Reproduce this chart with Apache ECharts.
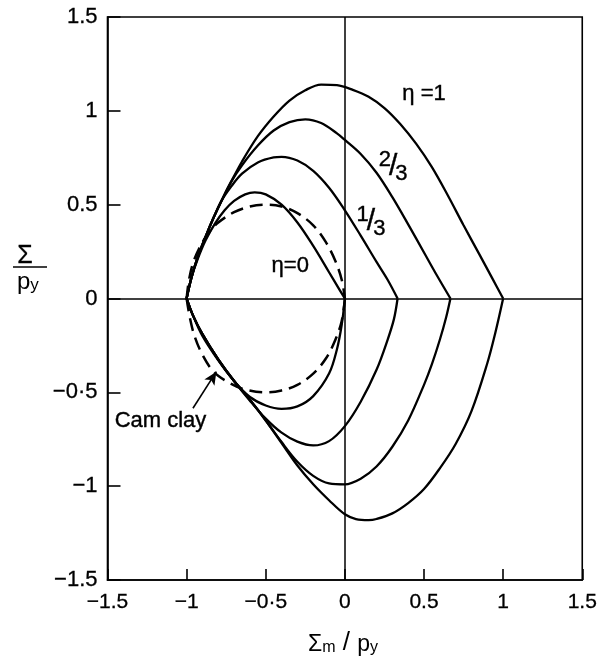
<!DOCTYPE html>
<html>
<head>
<meta charset="utf-8">
<script src="https://cdn.jsdelivr.net/npm/echarts@6/dist/echarts.min.js"></script>
<style>
  html, body { margin: 0; padding: 0; background: #fff; }
  #chart { width: 600px; height: 669px; }
</style>
</head>
<body>
<div id="chart"></div>
<script>
// Tick values and their printed labels
const xTickValues = [-1.5, -1, -0.5, 0, 0.5, 1, 1.5];
const xTickLabels = ['\u22121.5', '\u22121', '\u22120\u00b75', '0', '0.5', '1', '1.5'];
const yTickValues = [-1.5, -1, -0.5, 0, 0.5, 1, 1.5];
const yTickLabels = ['\u22121.5', '\u22121', '\u22120\u00b75', '0', '0.5', '1', '1.5'];

// Yield loci, upper (Σ > 0) and lower (Σ < 0) branches, as [Σm/py, Σ/py]
const eta0Upper = [[-1,0],[-0.97,0.11],[-0.93,0.21],[-0.88,0.31],[-0.82,0.4],[-0.76,0.47],[-0.7,0.52],[-0.63,0.555],[-0.57,0.566],[-0.5,0.555],[-0.4,0.5],[-0.3,0.405],[-0.2,0.28],[-0.1,0.14],[-0.04,0.055],[0,0]];
const eta0Lower = [[-1,0],[-0.96,-0.09],[-0.9,-0.2],[-0.8,-0.33],[-0.7,-0.44],[-0.6,-0.525],[-0.5,-0.57],[-0.4,-0.588],[-0.3,-0.575],[-0.2,-0.52],[-0.1,-0.4],[-0.05,-0.27],[-0.02,-0.14],[0,0]];

const eta13Upper = [[-1,0],[-0.97,0.11],[-0.93,0.22],[-0.88,0.33],[-0.83,0.43],[-0.78,0.52],[-0.72,0.595],[-0.65,0.665],[-0.55,0.725],[-0.45,0.752],[-0.4,0.755],[-0.3,0.735],[-0.2,0.68],[-0.1,0.59],[0,0.47],[0.1,0.335],[0.2,0.195],[0.27,0.1],[0.333,0]];
const eta13Lower = [[-1,0],[-0.96,-0.09],[-0.9,-0.19],[-0.8,-0.325],[-0.7,-0.44],[-0.6,-0.545],[-0.5,-0.64],[-0.4,-0.715],[-0.3,-0.763],[-0.2,-0.783],[-0.1,-0.76],[0,-0.68],[0.1,-0.55],[0.2,-0.38],[0.27,-0.22],[0.31,-0.11],[0.333,0]];

const eta23Upper = [[-1,0],[-0.97,0.11],[-0.93,0.22],[-0.88,0.33],[-0.83,0.43],[-0.78,0.52],[-0.72,0.62],[-0.65,0.71],[-0.55,0.815],[-0.45,0.895],[-0.35,0.94],[-0.25,0.955],[-0.15,0.935],[-0.05,0.88],[0,0.845],[0.1,0.77],[0.2,0.67],[0.3,0.54],[0.4,0.395],[0.5,0.245],[0.58,0.125],[0.667,0]];
const eta23Lower = [[-1,0],[-0.96,-0.09],[-0.9,-0.19],[-0.8,-0.325],[-0.7,-0.44],[-0.6,-0.54],[-0.5,-0.65],[-0.4,-0.765],[-0.3,-0.87],[-0.2,-0.945],[-0.1,-0.985],[0,-0.99],[0.1,-0.96],[0.2,-0.895],[0.3,-0.79],[0.4,-0.65],[0.5,-0.46],[0.55,-0.35],[0.6,-0.22],[0.64,-0.1],[0.667,0]];

const eta1Upper = [[-1,0],[-0.97,0.11],[-0.93,0.22],[-0.88,0.33],[-0.83,0.43],[-0.78,0.52],[-0.72,0.62],[-0.65,0.73],[-0.55,0.865],[-0.45,0.97],[-0.35,1.055],[-0.25,1.11],[-0.15,1.14],[-0.05,1.137],[0.05,1.112],[0.15,1.075],[0.25,1.015],[0.35,0.93],[0.45,0.825],[0.55,0.7],[0.65,0.55],[0.75,0.39],[0.85,0.235],[0.93,0.11],[1,0]];
const eta1Lower = [[-1,0],[-0.96,-0.09],[-0.9,-0.19],[-0.8,-0.325],[-0.7,-0.44],[-0.6,-0.54],[-0.5,-0.65],[-0.4,-0.77],[-0.3,-0.89],[-0.2,-0.99],[-0.1,-1.075],[0,-1.15],[0.07,-1.175],[0.15,-1.181],[0.2,-1.175],[0.3,-1.145],[0.4,-1.09],[0.5,-1.015],[0.6,-0.905],[0.7,-0.775],[0.8,-0.6],[0.9,-0.345],[0.95,-0.185],[1,0]];

// Cam clay locus
const camClayUpper = [[-1,0],[-0.985,0.1],[-0.955,0.2],[-0.9,0.3],[-0.85,0.36],[-0.8,0.405],[-0.7,0.46],[-0.6,0.49],[-0.5,0.5],[-0.4,0.49],[-0.3,0.455],[-0.2,0.39],[-0.12,0.3],[-0.06,0.2],[-0.02,0.1],[0,0]];
const camClayLower = [[-1,0],[-0.98,-0.1],[-0.95,-0.2],[-0.9,-0.3],[-0.83,-0.39],[-0.75,-0.44],[-0.65,-0.48],[-0.5,-0.5],[-0.4,-0.49],[-0.3,-0.46],[-0.2,-0.4],[-0.12,-0.32],[-0.06,-0.22],[-0.02,-0.12],[0,0]];

// Text annotations and where they sit (data coordinates)
const annotationTexts = ['\u03b7 =1', '{n|2}{s|/}{d|3}', '{n|1}{s|/}{d|3}', '\u03b7=0', 'Cam clay'];
const annotationAnchors = [[0.5, 1.09], [0.305, 0.70], [0.165, 0.41], [-0.345, 0.175], [-1.165, -0.65]];
const arrowFrom = [-0.96, -0.585];
const arrowTo = [-0.812, -0.39];

const FONT = 'Liberation Sans, Arial, sans-serif';
const INK = '#000';

function tickLabel(values, labels) {
  return function (v) {
    for (let i = 0; i < values.length; i++) {
      if (Math.abs(values[i] - v) < 1e-9) return labels[i];
    }
    return '';
  };
}

function curve(data, dashed) {
  return {
    type: 'line',
    data: data,
    smooth: 0.35,
    showSymbol: false,
    symbol: 'none',
    silent: true,
    lineStyle: { color: INK, width: dashed ? 2.5 : 2.3, type: dashed ? [13, 7] : 'solid', cap: 'butt' },
    z: 3
  };
}

const chart = echarts.init(document.getElementById('chart'), null, { renderer: 'canvas' });

const series = [
  curve(eta0Upper), curve(eta0Lower),
  curve(eta13Upper), curve(eta13Lower),
  curve(eta23Upper), curve(eta23Lower),
  curve(eta1Upper), curve(eta1Lower),
  curve(camClayUpper, true), curve(camClayLower, true),
  // Axes through the origin
  {
    type: 'line', data: [], silent: true,
    markLine: {
      silent: true, symbol: 'none', animation: false,
      label: { show: false },
      lineStyle: { color: INK, width: 1.5, type: 'solid' },
      data: [{ xAxis: 0 }, { yAxis: 0 }]
    }
  },
  // Curve labels
  {
    type: 'scatter', silent: true, symbolSize: 0,
    itemStyle: { color: 'transparent', opacity: 1 },
    data: annotationAnchors.map((p, i) => ({ value: p, name: annotationTexts[i] })),
    label: {
      show: true, position: 'inside', color: INK, opacity: 1,
      textBorderWidth: 0.4, textBorderColor: INK,
      fontFamily: FONT, fontSize: 22,
      formatter: p => p.name,
      rich: {
        n: { fontFamily: FONT, fontSize: 22, color: INK, textBorderWidth: 0.4, textBorderColor: INK, verticalAlign: 'top', lineHeight: 36 },
        s: { fontFamily: FONT, fontSize: 30, color: INK, textBorderWidth: 0.4, textBorderColor: INK, verticalAlign: 'middle', lineHeight: 36, padding: [0, -2, 0, -2] },
        d: { fontFamily: FONT, fontSize: 22, color: INK, textBorderWidth: 0.4, textBorderColor: INK, verticalAlign: 'bottom', lineHeight: 36 }
      }
    },
    z: 5
  },
  // Arrow pointing at the Cam clay locus
  {
    type: 'line', data: [], silent: true,
    markLine: {
      silent: true, animation: false,
      symbol: ['none', 'arrow'], symbolSize: [9, 13],
      label: { show: false },
      lineStyle: { color: INK, width: 1.6, type: 'solid' },
      data: [[{ coord: arrowFrom }, { coord: arrowTo }]]
    }
  }
];

chart.setOption({
  animation: false,
  backgroundColor: '#fff',
  grid: {
    left: 107.5, right: 15, top: 17, bottom: 89,
    show: true, borderColor: INK, borderWidth: 1.6, backgroundColor: 'transparent'
  },
  xAxis: {
    type: 'value', min: -1.5, max: 1.5, interval: 0.5,
    axisLine: { show: true, onZero: false, lineStyle: { color: INK, width: 1.6 } },
    axisTick: { show: true, inside: true, length: 11, lineStyle: { color: INK, width: 1.6 } },
    splitLine: { show: false },
    axisLabel: {
      color: INK, fontFamily: FONT, fontSize: 21, margin: 12,
      textBorderWidth: 0.3, textBorderColor: INK,
      formatter: tickLabel(xTickValues, xTickLabels)
    }
  },
  yAxis: {
    type: 'value', min: -1.5, max: 1.5, interval: 0.5,
    axisLine: { show: true, onZero: false, lineStyle: { color: INK, width: 1.6 } },
    axisTick: { show: true, inside: true, length: 13, lineStyle: { color: INK, width: 1.6 } },
    splitLine: { show: false },
    axisLabel: {
      color: INK, fontFamily: FONT, fontSize: 22, margin: 10,
      textBorderWidth: 0.3, textBorderColor: INK,
      formatter: tickLabel(yTickValues, yTickLabels)
    }
  },
  graphic: [
    // Vertical axis title: Σ over p_y
    { type: 'text', left: 17, top: 243, style: { text: '\u03a3', font: '25px ' + FONT, fill: INK, stroke: INK, lineWidth: 0.3 } },
    { type: 'line', shape: { x1: 13, y1: 267, x2: 47, y2: 267 }, style: { stroke: INK, lineWidth: 1.5 } },
    {
      type: 'text', left: 17, top: 270,
      style: {
        text: '{p|p}{y|y}', fill: INK,
        rich: {
          p: { fontFamily: FONT, fontSize: 24, color: INK, verticalAlign: 'bottom', lineHeight: 30 },
          y: { fontFamily: FONT, fontSize: 17, color: INK, verticalAlign: 'bottom', lineHeight: 24 }
        }
      }
    },
    // Horizontal axis title: Σm / py
    {
      type: 'text', left: 308, top: 630,
      style: {
        text: '{a|\u03a3}{b|m}{c| / }{a|p}{d|y}', fill: INK,
        rich: {
          a: { fontFamily: FONT, fontSize: 23, color: INK, verticalAlign: 'bottom', lineHeight: 30 },
          b: { fontFamily: FONT, fontSize: 16, color: INK, verticalAlign: 'bottom', lineHeight: 26 },
          c: { fontFamily: FONT, fontSize: 26, color: INK, verticalAlign: 'bottom', lineHeight: 31 },
          d: { fontFamily: FONT, fontSize: 16, color: INK, verticalAlign: 'bottom', lineHeight: 22 }
        }
      }
    }
  ],
  series: series
});
</script>
</body>
</html>
